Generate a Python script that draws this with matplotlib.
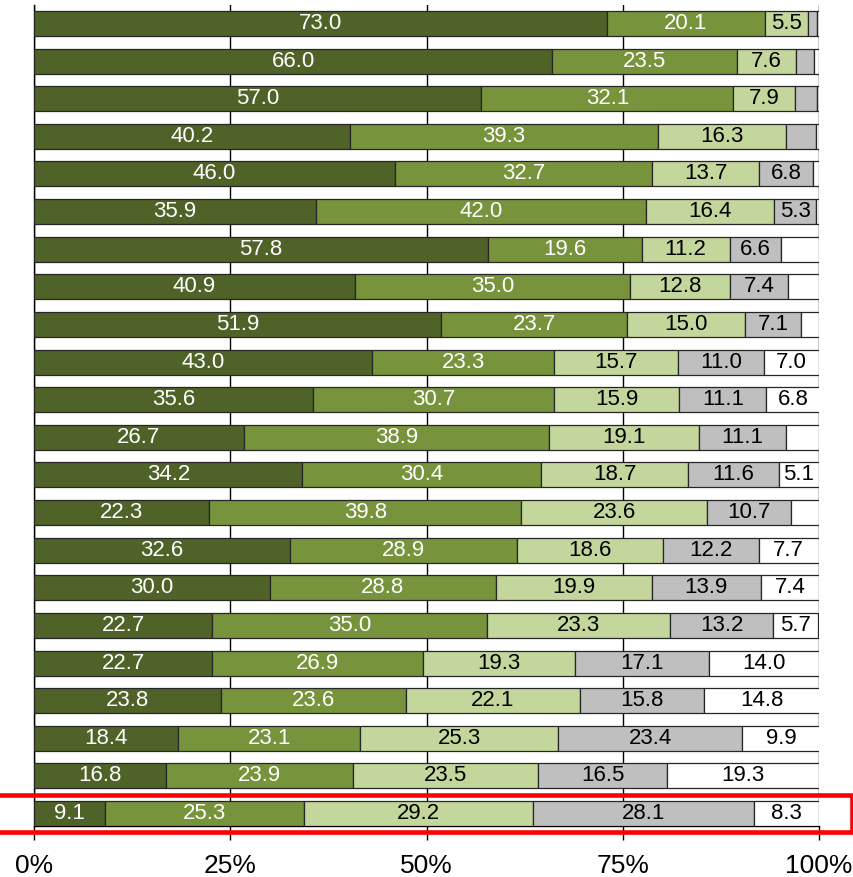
import matplotlib
matplotlib.use("Agg")
import matplotlib.pyplot as plt
from matplotlib.patches import Rectangle
import numpy as np

plt.rcParams['font.family'] = ['Liberation Sans', 'DejaVu Sans']

# Segment values per row (top to bottom), in percent
seg1 = [73.0, 66.0, 57.0, 40.2, 46.0, 35.9, 57.8, 40.9, 51.9, 43.0, 35.6,
        26.7, 34.2, 22.3, 32.6, 30.0, 22.7, 22.7, 23.8, 18.4, 16.8, 9.1]
seg2 = [20.1, 23.5, 32.1, 39.3, 32.7, 42.0, 19.6, 35.0, 23.7, 23.3, 30.7,
        38.9, 30.4, 39.8, 28.9, 28.8, 35.0, 26.9, 23.6, 23.1, 23.9, 25.3]
seg3 = [5.5, 7.6, 7.9, 16.3, 13.7, 16.4, 11.2, 12.8, 15.0, 15.7, 15.9,
        19.1, 18.7, 23.6, 18.6, 19.9, 23.3, 19.3, 22.1, 25.3, 23.5, 29.2]
seg4 = [1.1, 2.3, 2.8, 3.8, 6.8, 5.3, 6.6, 7.4, 7.1, 11.0, 11.1,
        11.1, 11.6, 10.7, 12.2, 13.9, 13.2, 17.1, 15.8, 23.4, 16.5, 28.1]
seg5 = [0.3, 0.6, 0.2, 0.4, 0.8, 0.4, 4.8, 3.9, 2.3, 7.0, 6.8,
        4.2, 5.1, 3.6, 7.7, 7.4, 5.7, 14.0, 14.8, 9.9, 19.3, 8.3]
tick_values = [0, 25, 50, 75, 100]
tick_labels = ['0%', '25%', '50%', '75%', '100%']

series = [seg1, seg2, seg3, seg4, seg5]
colors = ['#4F6228', '#77933C', '#C3D69B', '#BFBFBF', '#FFFFFF']
text_colors = ['white', 'white', 'black', 'black', 'black']

fig = plt.figure(figsize=(8.54, 8.77), dpi=100)
ax = fig.add_axes([34/854, (877-826)/877, 785/854, 821/877])

n = len(seg1)
y = np.arange(n)
left = np.zeros(n)
for vals, col, tcol in zip(series, colors, text_colors):
    vals = np.array(vals)
    ax.barh(y, vals, left=left, height=0.665, color=col,
            edgecolor='#262626', linewidth=0.9, zorder=3)
    for yi, l, v in zip(y, left, vals):
        if v >= 5:
            ax.text(l + v/2, yi, f"{v:.1f}", ha='center', va='center',
                    color=tcol, fontsize=16, zorder=4)
    left = left + vals

ax.set_xlim(0, 100)
ax.set_ylim(21.33, -0.49)
ax.set_xticks(tick_values)
ax.set_xticklabels(tick_labels, fontsize=19)
ax.set_yticks([])
ax.tick_params(axis='x', direction='out', length=10, width=1, pad=10, colors='black')
ax.xaxis.grid(True, color='black', linewidth=1)
ax.set_axisbelow(True)
for s in ['top', 'right']:
    ax.spines[s].set_visible(False)
for s in ['left', 'bottom']:
    ax.spines[s].set_color('black')
    ax.spines[s].set_linewidth(1)

fig.patches.append(Rectangle((-6/854, (877-832)/877), 858/854, 37/877,
                             transform=fig.transFigure, fill=False,
                             edgecolor='#FF0000', linewidth=3.3, zorder=10))

fig.savefig('out.png', dpi=100)
